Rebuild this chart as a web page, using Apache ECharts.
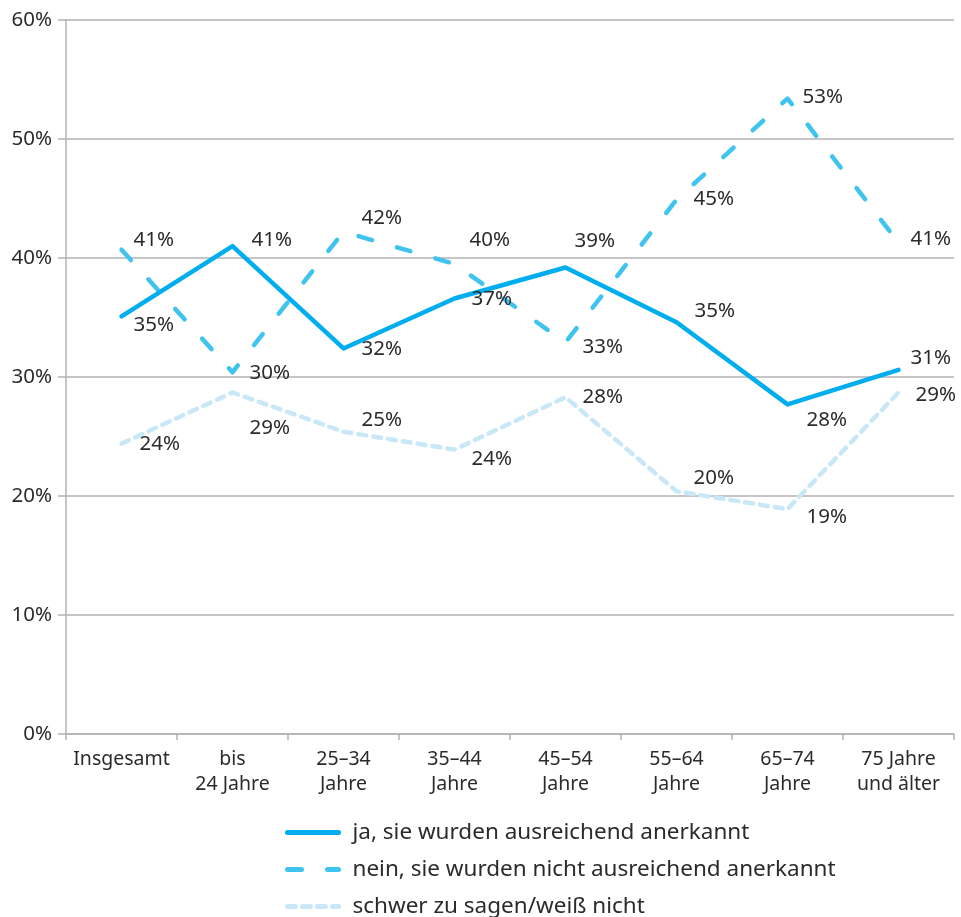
<!DOCTYPE html>
<html>
<head>
<meta charset="utf-8">
<script src="https://cdn.jsdelivr.net/npm/echarts@6/dist/echarts.min.js"></script>
<style>
  html, body { margin: 0; padding: 0; background: #fff; }
  #chart { width: 961px; height: 917px; }
</style>
</head>
<body>
<div id="chart"></div>
<script>
const categories = ['Insgesamt', 'bis\n24 Jahre', '25–34\nJahre', '35–44\nJahre', '45–54\nJahre', '55–64\nJahre', '65–74\nJahre', '75 Jahre\nund älter'];
const seriesNames = [
  'ja, sie wurden ausreichend anerkannt',
  'nein, sie wurden nicht ausreichend anerkannt',
  'schwer zu sagen/weiß nicht',
];
const jaValues = [35.1, 41.0, 32.4, 36.6, 39.2, 34.6, 27.7, 30.6];
const neinValues = [40.7, 30.4, 42.2, 39.5, 32.9, 44.9, 53.4, 41.3];
const schwerValues = [24.4, 28.7, 25.4, 23.9, 28.3, 20.4, 18.9, 28.7];
const yTicks = [0, 10, 20, 30, 40, 50, 60];

// label nudges [dx, dy] per point
const jaOffsets = [[0, 9], [7, -6], [6, 1], [5, 1], [-3, -26], [6, -11], [7, 16], [0, -12]];
const neinOffsets = [[0, -10], [5, 1], [6, -14], [3, -24], [5, 5], [5, -1], [3, -1], [0, -3]];
const schwerOffsets = [[6, 1], [5, 36], [6, -12], [5, 10], [5, 0], [5, -13], [7, 8], [5, 3]];

const font = 'Noto Sans';
const textColor = '#2b2b2b';
const gridColor = '#b3b3b6';

function makeSeries(name, values, offsets, color, type, z) {
  return {
    name,
    type: 'line',
    z,
    symbol: 'circle',
    symbolSize: 0.1,
    itemStyle: { color },
    lineStyle: { color, width: 4.5, type, cap: 'round', join: 'round' },
    data: values.map((v, i) => ({
      value: v,
      label: { offset: offsets[i] },
    })),
    label: {
      show: true,
      position: 'right',
      distance: 12,
      fontFamily: font,
      fontSize: 20.5,
      color: textColor,
      formatter: (p) => Math.round(p.value) + '%',
    },
    emphasis: { disabled: true },
  };
}

const chart = echarts.init(document.getElementById('chart'));
chart.setOption({
  animation: false,
  textStyle: { fontFamily: font },
  grid: { left: 66, right: 7, top: 20, bottom: 183, containLabel: false },
  xAxis: {
    type: 'category',
    data: categories,
    boundaryGap: true,
    axisLine: { lineStyle: { color: gridColor, width: 1.5 } },
    axisTick: { show: true, length: 6, lineStyle: { color: gridColor, width: 1.5 } },
    axisLabel: {
      interval: 0,
      margin: 13,
      fontFamily: font,
      fontSize: 19.5,
      lineHeight: 25,
      color: textColor,
    },
  },
  yAxis: {
    type: 'value',
    min: yTicks[0],
    max: yTicks[yTicks.length - 1],
    interval: 10,
    axisLine: { show: true, lineStyle: { color: gridColor, width: 1.5 } },
    axisTick: { show: true, inside: false, length: 8, lineStyle: { color: gridColor, width: 1.5 } },
    splitLine: { lineStyle: { color: gridColor, width: 1.5 } },
    axisLabel: {
      margin: 14,
      fontFamily: font,
      fontSize: 20.5,
      color: textColor,
      formatter: '{value}%',
    },
  },
  legend: {
    orient: 'vertical',
    left: 280,
    top: 816,
    height: 200,
    itemWidth: 51,
    itemHeight: 14,
    itemGap: 14,
    itemStyle: { opacity: 0 },
    lineStyle: { width: 5, cap: 'round' },
    textStyle: { fontFamily: font, fontSize: 22.5, color: textColor, padding: [0, 0, 0, 9] },
    data: seriesNames,
    selectedMode: false,
  },
  series: [
    makeSeries(seriesNames[2], schwerValues, schwerOffsets, '#c8e8f8', [8, 7], 1),
    makeSeries(seriesNames[1], neinValues, neinOffsets, '#3fc3ef', [14, 26], 2),
    makeSeries(seriesNames[0], jaValues, jaOffsets, '#00aeef', 'solid', 3),
  ],
});
</script>
</body>
</html>
